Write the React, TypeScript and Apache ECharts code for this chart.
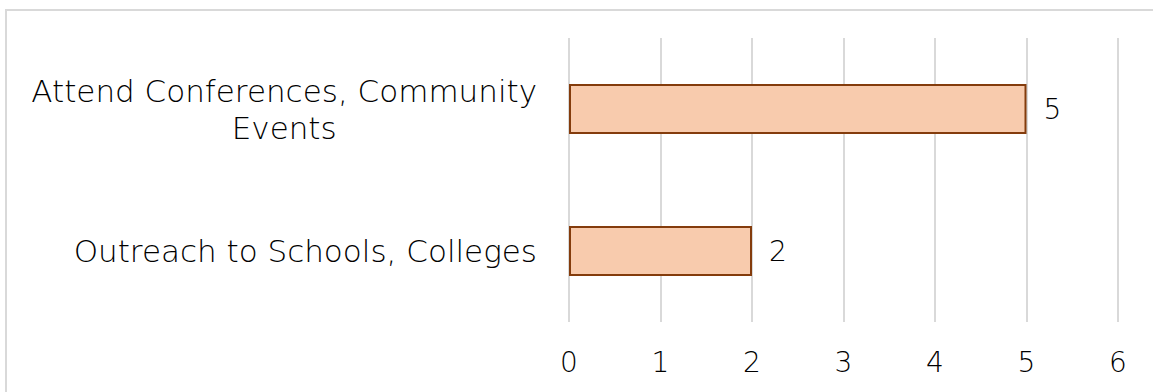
import React, { useEffect, useRef } from "react";
import * as echarts from "echarts";

const categories = ["Attend Conferences, Community\nEvents", "Outreach to Schools, Colleges"];
const values = [5, 2];
const tickMin = 0;
const tickMax = 6;
const tickStep = 1;

export default function App() {
  const ref = useRef<HTMLDivElement>(null);
  useEffect(() => {
    if (!ref.current) return;
    const chart = echarts.init(ref.current, null, { renderer: "svg" });
    const font = "DejaVu Sans";
    const weight = 200;
    chart.setOption({
      animation: false,
      backgroundColor: "#ffffff",
      graphic: [
        {
          type: "rect",
          shape: { x: 6, y: 10, width: 1200, height: 450 },
          style: { fill: "none", stroke: "#d9d9d9", lineWidth: 2 },
          silent: true,
        },
      ],
      grid: { left: 569, right: 35, top: 38, bottom: 70 },
      xAxis: {
        type: "value",
        min: tickMin,
        max: tickMax,
        interval: tickStep,
        axisLine: { show: false },
        axisTick: { show: false },
        splitLine: { show: true, lineStyle: { color: "#d9d9d9", width: 2 } },
        axisLabel: { fontFamily: font, fontWeight: weight, fontSize: 28, color: "#000000", margin: 26 },
      },
      yAxis: {
        type: "category",
        data: categories,
        inverse: true,
        axisLine: { show: false },
        axisTick: { show: false },
        splitLine: { show: false },
        axisLabel: {
          margin: 32,
          formatter: (v: string) => v.split("\n").map((l) => `{c|${l}}`).join("\n"),
          rich: {
            c: { fontFamily: font, fontWeight: weight, fontSize: 31, color: "#000000", align: "center", lineHeight: 37 },
          },
        },
      },
      series: [
        {
          type: "bar",
          data: values,
          barWidth: 50,
          itemStyle: { color: "#F8CBAD", borderColor: "#843C0C", borderWidth: 2 },
          label: {
            show: true,
            position: "right",
            distance: 17,
            fontFamily: font,
            fontWeight: weight,
            fontSize: 28,
            color: "#000000",
          },
        },
      ],
    });
    return () => chart.dispose();
  }, []);
  return (
    <div
      ref={ref}
      style={{ position: "fixed", left: 0, top: 0, width: 1153, height: 392 }}
    />
  );
}
